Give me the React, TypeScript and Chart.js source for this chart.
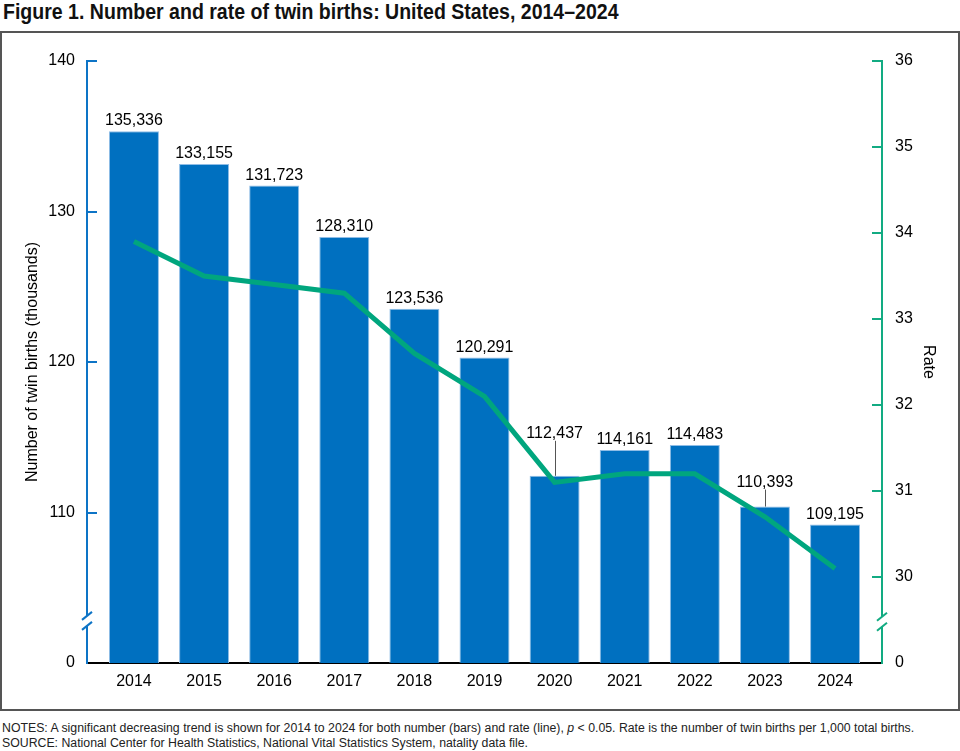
import React, { useEffect, useRef } from "react";
import { Chart, registerables } from "chart.js";

Chart.register(...registerables);

const years = [2014, 2015, 2016, 2017, 2018, 2019, 2020, 2021, 2022, 2023, 2024];
const twinBirths = [135336, 133155, 131723, 128310, 123536, 120291, 112437, 114161, 114483, 110393, 109195];
const twinRate = [33.9, 33.5, 33.4, 33.3, 32.6, 32.1, 31.1, 31.2, 31.2, 30.7, 30.1];
// left axis is broken: the bottom value 100 (thousands) is shown as "0"
const countTicks = [100, 110, 120, 130, 140];
const rateTicks = [29, 30, 31, 32, 33, 34, 35, 36];

const BAR_BLUE = "#0070c0";
const AXIS_BLUE = "#0d74c6";
const LINE_GREEN = "#00a67e";
const AXIS_GREEN = "#12ab82";
const FONT = "'Liberation Sans', Arial, sans-serif";

// labels lifted above the line, with a leader line down to the bar
const labelLift: Record<number, number> = { 2020: 32, 2023: 14 };

const decorPlugin = {
  id: "decor",
  afterDatasetsDraw(chart: any) {
    const ctx = chart.ctx as CanvasRenderingContext2D;
    const { left, right } = chart.chartArea;
    const yL = chart.scales.y;
    const yR = chart.scales.y1;
    ctx.save();
    ctx.lineCap = "butt";

    // inward tick marks
    ctx.lineWidth = 2;
    ctx.strokeStyle = AXIS_BLUE;
    countTicks.slice(1).forEach((v) => {
      const py = Math.round(yL.getPixelForValue(v));
      ctx.beginPath();
      ctx.moveTo(left, py);
      ctx.lineTo(left + 10, py);
      ctx.stroke();
    });
    ctx.strokeStyle = AXIS_GREEN;
    rateTicks.slice(1).forEach((v) => {
      const py = Math.round(yR.getPixelForValue(v));
      ctx.beginPath();
      ctx.moveTo(right - 10, py);
      ctx.lineTo(right, py);
      ctx.stroke();
    });

    // axis breaks
    const drawBreak = (x: number, yb: number, color: string) => {
      ctx.fillStyle = "#fff";
      ctx.fillRect(x - 2, yb - 5, 4, 10);
      ctx.strokeStyle = color;
      ctx.lineWidth = 2;
      [-5, 5].forEach((d) => {
        ctx.beginPath();
        ctx.moveTo(x - 5, yb + d + 4);
        ctx.lineTo(x + 5, yb + d - 4);
        ctx.stroke();
      });
    };
    drawBreak(left, yL.getPixelForValue(102.8), AXIS_BLUE);
    drawBreak(right, yR.getPixelForValue(29.48), AXIS_GREEN);

    // value labels over bars
    const meta = chart.getDatasetMeta(0);
    ctx.font = `16px ${FONT}`;
    ctx.fillStyle = "#000";
    ctx.textAlign = "center";
    ctx.textBaseline = "alphabetic";
    meta.data.forEach((bar: any, i: number) => {
      const lift = labelLift[years[i]] || 0;
      const base = bar.y - 6 - lift;
      ctx.fillText(twinBirths[i].toLocaleString("en-US"), bar.x, base);
      if (lift > 0) {
        ctx.strokeStyle = "#555";
        ctx.lineWidth = 1;
        ctx.beginPath();
        ctx.moveTo(Math.round(bar.x) + 0.5, base + 3);
        ctx.lineTo(Math.round(bar.x) + 0.5, bar.y);
        ctx.stroke();
      }
    });
    ctx.restore();
  },
};

const TwinBirthsChart: React.FC = () => {
  const canvasRef = useRef<HTMLCanvasElement | null>(null);
  const chartRef = useRef<Chart | null>(null);

  useEffect(() => {
    if (!canvasRef.current) return;
    if (chartRef.current) chartRef.current.destroy();

    chartRef.current = new Chart(canvasRef.current, {
      type: "bar",
      data: {
        datasets: [
          {
            type: "bar",
            label: "Number",
            data: years.map((y, i) => ({ x: y, y: twinBirths[i] / 1000 })),
            backgroundColor: BAR_BLUE,
            borderColor: "#8fbde6",
            borderWidth: 1,
            borderSkipped: "bottom",
            barPercentage: 0.713,
            categoryPercentage: 1,
            yAxisID: "y",
            order: 2,
          },
          {
            type: "line",
            label: "Rate",
            data: years.map((y, i) => ({ x: y, y: twinRate[i] })),
            borderColor: LINE_GREEN,
            borderWidth: 5,
            pointRadius: 0,
            tension: 0,
            yAxisID: "y1",
            order: 1,
          },
        ] as any,
      },
      options: {
        responsive: false,
        animation: false,
        layout: { padding: { top: 28, left: 0, right: 0, bottom: 0 } },
        plugins: {
          legend: { display: false },
          tooltip: { enabled: false },
        },
        scales: {
          x: {
            type: "linear",
            min: years[0] - 0.67,
            max: years[years.length - 1] + 0.67,
            offset: false,
            afterBuildTicks: (s: any) => {
              s.ticks = years.map((v) => ({ value: v }));
            },
            afterFit: (s: any) => {
              s.height = 46;
            },
            grid: { display: false, drawTicks: false },
            border: { display: true, color: "#000", width: 2 },
            ticks: {
              autoSkip: false,
              maxRotation: 0,
              padding: 9,
              color: "#000",
              font: { family: FONT, size: 16 },
              callback: (v: any) => String(v),
            },
          },
          y: {
            type: "linear",
            position: "left",
            min: countTicks[0],
            max: countTicks[countTicks.length - 1],
            afterBuildTicks: (s: any) => {
              s.ticks = countTicks.map((v) => ({ value: v }));
            },
            afterFit: (s: any) => {
              s.width = 85;
            },
            grid: { display: false, drawTicks: false },
            border: { display: true, color: AXIS_BLUE, width: 2 },
            ticks: {
              padding: 12,
              color: "#000",
              font: { family: FONT, size: 16 },
              callback: (v: any) => (v === countTicks[0] ? "0" : String(v)),
            },
            title: {
              display: true,
              text: "Number of twin births (thousands)",
              color: "#000",
              font: { family: FONT, size: 16 },
              padding: { top: 21, bottom: 0 },
            },
          },
          y1: {
            type: "linear",
            position: "right",
            min: rateTicks[0],
            max: rateTicks[rateTicks.length - 1],
            afterBuildTicks: (s: any) => {
              s.ticks = rateTicks.map((v) => ({ value: v }));
            },
            afterFit: (s: any) => {
              s.width = 76;
            },
            grid: { display: false, drawTicks: false },
            border: { display: true, color: AXIS_GREEN, width: 2 },
            ticks: {
              padding: 13,
              color: "#000",
              font: { family: FONT, size: 16 },
              callback: (v: any) => (v === rateTicks[0] ? "0" : String(v)),
            },
            title: {
              display: true,
              text: "Rate",
              color: "#000",
              font: { family: FONT, size: 16 },
              padding: { top: 20, bottom: 0 },
            },
          },
        },
      } as any,
      plugins: [decorPlugin],
    });

    return () => {
      if (chartRef.current) {
        chartRef.current.destroy();
        chartRef.current = null;
      }
    };
  }, []);

  return <canvas ref={canvasRef} width={956} height={676} style={{ display: "block" }} />;
};

export default function App() {
  return (
    <div style={{ position: "absolute", left: 0, top: 0, width: 960, height: 751, background: "#fff", fontFamily: FONT }}>
      <div
        style={{
          position: "absolute",
          left: 3,
          top: 1,
          fontFamily: FONT,
          fontWeight: "bold",
          fontSize: 22,
          lineHeight: "22px",
          color: "#111",
          whiteSpace: "nowrap",
          transform: "scaleX(0.888)",
          transformOrigin: "left top",
        }}
      >
        Figure 1. Number and rate of twin births: United States, 2014–2024
      </div>
      <div
        style={{
          position: "absolute",
          left: 0,
          top: 31,
          width: 960,
          height: 680,
          boxSizing: "border-box",
          border: "2px solid #555",
        }}
      >
        <TwinBirthsChart />
      </div>
      <div
        style={{
          position: "absolute",
          left: 2,
          top: 721,
          fontSize: 12.3,
          lineHeight: "15px",
          color: "#222",
          whiteSpace: "nowrap",
        }}
      >
        <div>
          NOTES: A significant decreasing trend is shown for 2014 to 2024 for both number (bars) and rate (line),{" "}
          <i>p</i> &lt; 0.05. Rate is the number of twin births per 1,000 total births.
        </div>
        <div>SOURCE: National Center for Health Statistics, National Vital Statistics System, natality data file.</div>
      </div>
    </div>
  );
}
